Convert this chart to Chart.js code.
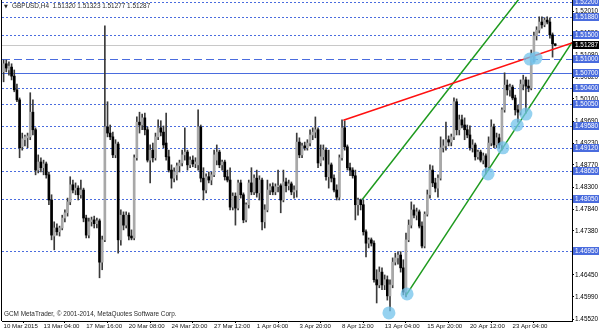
<!DOCTYPE html>
<html>
<head>
<meta charset="utf-8">
<script src="https://cdn.jsdelivr.net/npm/chart.js@4.4.1/dist/chart.umd.min.js"></script>
<style>
  html, body { margin: 0; padding: 0; background: #fff; }
  #wrap { width: 600px; height: 333px; }
</style>
</head>
<body>
<div id="wrap"><canvas id="chart" width="600" height="333"></canvas></div>
<script>
// GBPUSD H4, 10 Mar 2015 16:00 .. 24 Apr 2015 20:00 (one entry per bar)
var opens = [
  1.5073, 1.5090, 1.5077, 1.5083, 1.5064, 1.5035, 1.5014, 1.4915, 1.4930, 1.4934,
  1.4936, 1.4988, 1.4951, 1.4866, 1.4883, 1.4871, 1.4879, 1.4856, 1.4803, 1.4727,
  1.4744, 1.4736, 1.4744, 1.4765, 1.4776, 1.4799, 1.4835, 1.4824, 1.4828, 1.4814,
  1.4824, 1.4765, 1.4729, 1.4757, 1.4761, 1.4753, 1.4759, 1.4672, 1.4719, 1.4957,
  1.4944, 1.4936, 1.4898, 1.4921, 1.4719, 1.4771, 1.4750, 1.4771, 1.4727, 1.4723,
  1.4892, 1.4967, 1.4961, 1.4976, 1.4951, 1.4887, 1.4908, 1.4892, 1.4936, 1.4955,
  1.4946, 1.4923, 1.4894, 1.4866, 1.4849, 1.4856, 1.4875, 1.4881, 1.4898, 1.4904,
  1.4877, 1.4887, 1.4879, 1.4877, 1.4957, 1.4849, 1.4824, 1.4852, 1.4845, 1.4856,
  1.4887, 1.4904, 1.4877, 1.4883, 1.4852, 1.4845, 1.4788, 1.4811, 1.4786, 1.4839,
  1.4814, 1.4761, 1.4793, 1.4839, 1.4820, 1.4849, 1.4818, 1.4845, 1.4757, 1.4782,
  1.4824, 1.4831, 1.4820, 1.4831, 1.4833, 1.4803, 1.4841, 1.4833, 1.4837, 1.4820,
  1.4824, 1.4925, 1.4898, 1.4917, 1.4913, 1.4923, 1.4940, 1.4946, 1.4951, 1.4881,
  1.4894, 1.4908, 1.4852, 1.4877, 1.4849, 1.4824, 1.4809, 1.4892, 1.4955, 1.4915,
  1.4871, 1.4866, 1.4854, 1.4793, 1.4803, 1.4793, 1.4736, 1.4712, 1.4719, 1.4712,
  1.4635, 1.4624, 1.4651, 1.4624, 1.4635, 1.4601, 1.4624, 1.4672, 1.4681, 1.4687,
  1.4660, 1.4609, 1.4719, 1.4750, 1.4782, 1.4771, 1.4778, 1.4748, 1.4706, 1.4773,
  1.4814, 1.4866, 1.4839, 1.4828, 1.4849, 1.4913, 1.4917, 1.4930, 1.4925, 1.4936,
  1.5010, 1.4951, 1.4972, 1.4961, 1.4951, 1.4940, 1.4913, 1.4919, 1.4894, 1.4904,
  1.4887, 1.4896, 1.4873, 1.4923, 1.4957, 1.4919, 1.4934, 1.4919, 1.4993, 1.5045,
  1.5035, 1.5041, 1.5018, 1.4993, 1.4988, 1.5047, 1.5056, 1.5043, 1.5039, 1.5108,
  1.5149, 1.5161, 1.5178, 1.5172, 1.5182, 1.5178, 1.5151, 1.51320
];
var highs = [
  1.5098, 1.5098, 1.5094, 1.5090, 1.5077, 1.5047, 1.5018, 1.4944, 1.4940, 1.4944,
  1.5029, 1.5014, 1.4955, 1.4898, 1.4892, 1.4887, 1.4883, 1.4862, 1.4814, 1.4757,
  1.4753, 1.4748, 1.4771, 1.4782, 1.4807, 1.4852, 1.4845, 1.4839, 1.4833, 1.4845,
  1.4828, 1.4771, 1.4765, 1.4767, 1.4769, 1.4765, 1.4763, 1.4727, 1.5170, 1.5010,
  1.4961, 1.4946, 1.4930, 1.4925, 1.4782, 1.4778, 1.4778, 1.4776, 1.4740, 1.4898,
  1.4978, 1.4988, 1.4984, 1.4986, 1.4957, 1.4919, 1.4923, 1.4944, 1.4972, 1.4970,
  1.4959, 1.4986, 1.4908, 1.4877, 1.4871, 1.4881, 1.4887, 1.4908, 1.4955, 1.4908,
  1.4894, 1.4896, 1.4892, 1.4993, 1.4961, 1.4871, 1.4858, 1.4862, 1.4862, 1.4908,
  1.4919, 1.4908, 1.4887, 1.4887, 1.4866, 1.4871, 1.4818, 1.4818, 1.4845, 1.4845,
  1.4818, 1.4797, 1.4845, 1.4871, 1.4856, 1.4866, 1.4854, 1.4849, 1.4793, 1.4845,
  1.4837, 1.4839, 1.4837, 1.4866, 1.4837, 1.4866, 1.4849, 1.4845, 1.4841, 1.4833,
  1.4944, 1.4934, 1.4923, 1.4925, 1.4930, 1.4951, 1.4955, 1.4978, 1.4955, 1.4919,
  1.4919, 1.4913, 1.4908, 1.4881, 1.4856, 1.4835, 1.4898, 1.4972, 1.4970, 1.4919,
  1.4881, 1.4871, 1.4866, 1.4807, 1.4805, 1.4803, 1.4740, 1.4723, 1.4723, 1.4717,
  1.4656, 1.4662, 1.4660, 1.4645, 1.4643, 1.4635, 1.4681, 1.4691, 1.4694, 1.4694,
  1.4677, 1.4733, 1.4761, 1.4799, 1.4793, 1.4786, 1.4782, 1.4757, 1.4778, 1.4824,
  1.4877, 1.4875, 1.4849, 1.4856, 1.4936, 1.4930, 1.4967, 1.4938, 1.4942, 1.5018,
  1.5016, 1.4982, 1.4982, 1.4976, 1.4961, 1.4959, 1.4930, 1.4923, 1.4908, 1.4908,
  1.4902, 1.4900, 1.4936, 1.4972, 1.4963, 1.4944, 1.4942, 1.4997, 1.5071, 1.5056,
  1.5047, 1.5045, 1.5024, 1.5003, 1.5056, 1.5066, 1.5062, 1.5056, 1.5119, 1.5157,
  1.5168, 1.5189, 1.5189, 1.5187, 1.5189, 1.5187, 1.5155, 1.51323
];
var lows = [
  1.5052, 1.5073, 1.5066, 1.5056, 1.5031, 1.5010, 1.4892, 1.4908, 1.4917, 1.4913,
  1.4930, 1.4940, 1.4856, 1.4860, 1.4862, 1.4856, 1.4849, 1.4793, 1.4719, 1.4698,
  1.4729, 1.4727, 1.4740, 1.4757, 1.4769, 1.4793, 1.4818, 1.4814, 1.4803, 1.4807,
  1.4757, 1.4723, 1.4723, 1.4748, 1.4744, 1.4744, 1.4639, 1.4656, 1.4715, 1.4936,
  1.4930, 1.4892, 1.4892, 1.4691, 1.4708, 1.4740, 1.4744, 1.4719, 1.4719, 1.4719,
  1.4887, 1.4944, 1.4951, 1.4940, 1.4883, 1.4839, 1.4883, 1.4887, 1.4930, 1.4938,
  1.4913, 1.4887, 1.4862, 1.4828, 1.4841, 1.4845, 1.4862, 1.4875, 1.4887, 1.4866,
  1.4871, 1.4873, 1.4871, 1.4866, 1.4841, 1.4803, 1.4818, 1.4839, 1.4835, 1.4852,
  1.4877, 1.4871, 1.4866, 1.4845, 1.4841, 1.4782, 1.4782, 1.4750, 1.4782, 1.4807,
  1.4755, 1.4757, 1.4786, 1.4814, 1.4814, 1.4809, 1.4803, 1.4740, 1.4744, 1.4778,
  1.4814, 1.4814, 1.4814, 1.4820, 1.4776, 1.4799, 1.4820, 1.4824, 1.4814, 1.4807,
  1.4809, 1.4892, 1.4892, 1.4908, 1.4908, 1.4917, 1.4930, 1.4934, 1.4871, 1.4875,
  1.4887, 1.4845, 1.4828, 1.4841, 1.4820, 1.4803, 1.4803, 1.4887, 1.4908, 1.4866,
  1.4854, 1.4849, 1.4761, 1.4771, 1.4782, 1.4729, 1.4683, 1.4702, 1.4706, 1.4630,
  1.4586, 1.4618, 1.4614, 1.4614, 1.4592, 1.4569, 1.4618, 1.4666, 1.4668, 1.4651,
  1.4603, 1.4599, 1.4715, 1.4744, 1.4765, 1.4761, 1.4744, 1.4702, 1.4702, 1.4769,
  1.4807, 1.4831, 1.4820, 1.4809, 1.4845, 1.4904, 1.4908, 1.4917, 1.4917, 1.4930,
  1.4940, 1.4940, 1.4955, 1.4930, 1.4934, 1.4908, 1.4904, 1.4887, 1.4889, 1.4883,
  1.4879, 1.4858, 1.4866, 1.4917, 1.4913, 1.4913, 1.4913, 1.4908, 1.4988, 1.5024,
  1.5022, 1.5014, 1.4982, 1.4967, 1.4982, 1.5035, 1.4986, 1.5031, 1.5035, 1.5094,
  1.5140, 1.5155, 1.5165, 1.5168, 1.5174, 1.5144, 1.5104, 1.51277
];
var closes = [
  1.5090, 1.5081, 1.5085, 1.5064, 1.5035, 1.5014, 1.4913, 1.4932, 1.4936, 1.4938,
  1.4988, 1.4951, 1.4866, 1.4883, 1.4871, 1.4879, 1.4856, 1.4803, 1.4729, 1.4744,
  1.4736, 1.4744, 1.4765, 1.4776, 1.4799, 1.4835, 1.4824, 1.4828, 1.4814, 1.4824,
  1.4765, 1.4729, 1.4757, 1.4761, 1.4753, 1.4759, 1.4672, 1.4719, 1.4957, 1.4944,
  1.4936, 1.4898, 1.4921, 1.4719, 1.4771, 1.4750, 1.4771, 1.4727, 1.4723, 1.4892,
  1.4967, 1.4961, 1.4976, 1.4951, 1.4887, 1.4908, 1.4892, 1.4936, 1.4955, 1.4946,
  1.4919, 1.4894, 1.4866, 1.4849, 1.4862, 1.4875, 1.4881, 1.4898, 1.4904, 1.4877,
  1.4887, 1.4879, 1.4883, 1.4957, 1.4849, 1.4824, 1.4852, 1.4845, 1.4856, 1.4898,
  1.4904, 1.4877, 1.4883, 1.4852, 1.4845, 1.4788, 1.4811, 1.4786, 1.4839, 1.4814,
  1.4761, 1.4793, 1.4839, 1.4820, 1.4849, 1.4818, 1.4845, 1.4757, 1.4782, 1.4824,
  1.4831, 1.4820, 1.4831, 1.4833, 1.4803, 1.4841, 1.4833, 1.4837, 1.4820, 1.4824,
  1.4925, 1.4898, 1.4917, 1.4913, 1.4923, 1.4940, 1.4946, 1.4951, 1.4881, 1.4894,
  1.4908, 1.4852, 1.4877, 1.4849, 1.4824, 1.4809, 1.4892, 1.4955, 1.4915, 1.4871,
  1.4866, 1.4854, 1.4793, 1.4803, 1.4793, 1.4736, 1.4712, 1.4719, 1.4712, 1.4635,
  1.4624, 1.4651, 1.4624, 1.4635, 1.4601, 1.4624, 1.4672, 1.4681, 1.4687, 1.4660,
  1.4609, 1.4719, 1.4750, 1.4782, 1.4771, 1.4778, 1.4748, 1.4706, 1.4773, 1.4814,
  1.4866, 1.4839, 1.4828, 1.4849, 1.4913, 1.4917, 1.4930, 1.4925, 1.4936, 1.5010,
  1.4951, 1.4972, 1.4961, 1.4951, 1.4940, 1.4913, 1.4919, 1.4894, 1.4904, 1.4887,
  1.4896, 1.4873, 1.4923, 1.4957, 1.4919, 1.4934, 1.4919, 1.4993, 1.5045, 1.5035,
  1.5041, 1.5018, 1.4993, 1.4988, 1.5047, 1.5056, 1.5043, 1.5039, 1.5108, 1.5149,
  1.5161, 1.5178, 1.5172, 1.5182, 1.5178, 1.5151, 1.5132, 1.51287
];

// time axis labels (bar index -> text)
var xTickIdx = [0, 15, 31, 47, 63, 79, 95, 111, 127, 143, 159, 175, 191];
var xTickText = ['10 Mar 2015', '13 Mar 04:00', '17 Mar 16:00', '20 Mar 08:00', '24 Mar 20:00',
  '27 Mar 12:00', '1 Apr 04:00', '3 Apr 20:00', '8 Apr 12:00', '13 Apr 04:00',
  '15 Apr 20:00', '20 Apr 12:00', '23 Apr 04:00'];

// price scale ticks
var yTicks = [1.52010, 1.51550, 1.51080, 1.50620, 1.50160, 1.49690, 1.49230, 1.48770,
  1.48300, 1.47840, 1.47380, 1.46910, 1.46450, 1.45990, 1.45520];

// horizontal levels
var dotLevels = [1.52200, 1.51880, 1.51500, 1.50400, 1.50050, 1.49580, 1.49120, 1.48650, 1.48050, 1.46950];
var dashLevels = [1.51000];
var solidLevels = [1.50700];
var bidPrice = 1.51287;

// trend lines: [bar index, price]
var redLine = [[127.5, 1.4971], [213.3, 1.5134]];
var greenUpper = [[134.6, 1.4804], [195.0, 1.5238]];
var greenLower = [[151.0, 1.4602], [213.3, 1.5135]];
// marked touches: [bar index, price]
var touches = [[144.6, 1.4565], [151.4, 1.4605], [181.8, 1.4858], [187.4, 1.4913],
  [192.7, 1.4961], [196.0, 1.4984], [197.5, 1.5100], [199.8, 1.5102]];

var FONT = '"Liberation Sans", Arial, sans-serif';
var BLUE = 'rgb(74,108,222)';

var wicks = [], bodies = [], bodyColors = [];
for (var i = 0; i < opens.length; i++) {
  wicks.push({ x: i, y: [lows[i], highs[i]] });
  bodies.push({ x: i, y: [opens[i], closes[i]] });
  bodyColors.push(closes[i] >= opens[i] ? '#a8a8a8' : '#000000');
}

function pts(arr) {
  return arr.map(function (p) { return { x: p[0], y: p[1] }; });
}

function noPad(s) {
  s.paddingTop = 0; s.paddingBottom = 0; s.paddingLeft = 0; s.paddingRight = 0;
}

var levelsPlugin = {
  id: 'levels',
  beforeDatasetsDraw: function (chart) {
    var ctx = chart.ctx, a = chart.chartArea, ys = chart.scales.y;
    ctx.save();
    ctx.beginPath();
    ctx.rect(a.left, a.top, a.right - a.left, a.bottom - a.top);
    ctx.clip();
    ctx.lineWidth = 1;
    function hline(v, dash, color) {
      var y = Math.round(ys.getPixelForValue(v)) + 0.5;
      ctx.setLineDash(dash);
      ctx.strokeStyle = color;
      ctx.beginPath();
      ctx.moveTo(a.left, y);
      ctx.lineTo(a.right, y);
      ctx.stroke();
    }
    hline(bidPrice, [], '#c8c8c8');
    dotLevels.forEach(function (v) { hline(v, [2, 2], BLUE); });
    dashLevels.forEach(function (v) { hline(v, [8, 4], BLUE); });
    solidLevels.forEach(function (v) { hline(v, [], BLUE); });
    ctx.restore();
  },
  afterDraw: function (chart) {
    var ctx = chart.ctx, a = chart.chartArea, ys = chart.scales.y;
    ctx.save();
    // left frame line
    ctx.strokeStyle = '#000';
    ctx.lineWidth = 1;
    ctx.beginPath();
    ctx.moveTo(a.left - 0.5, a.top);
    ctx.lineTo(a.left - 0.5, a.bottom);
    ctx.stroke();

    ctx.font = '6.4px ' + FONT;
    ctx.textBaseline = 'middle';
    ctx.textAlign = 'left';
    function tag(v, bg) {
      var y = Math.round(ys.getPixelForValue(v));
      ctx.fillStyle = bg;
      ctx.fillRect(a.right + 1, y - 4, 26, 8);
      ctx.fillStyle = '#fff';
      ctx.fillText(v.toFixed(5), a.right + 3, y + 0.5);
    }
    dotLevels.concat(dashLevels, solidLevels).forEach(function (v) { tag(v, BLUE); });
    tag(bidPrice, '#000');

    // header and copyright
    ctx.fillStyle = '#2a2a2a';
    ctx.font = '5px "DejaVu Sans", sans-serif';
    ctx.fillText('\u25BC', a.left + 2, a.top + 6.5);
    ctx.font = '6.4px ' + FONT;
    var n = opens.length - 1;
    ctx.fillText('GBPUSD,H4  ' + opens[n].toFixed(5) + ' ' + highs[n].toFixed(5) + ' ' +
      lows[n].toFixed(5) + ' ' + closes[n].toFixed(5), a.left + 10, a.top + 6.5);
    ctx.fillText('GCM MetaTrader, \u00A9 2001-2014, MetaQuotes Software Corp.', a.left + 2, a.bottom - 6.5);
    ctx.restore();
  }
};

new Chart(document.getElementById('chart'), {
  type: 'bar',
  data: {
    datasets: [
      { type: 'bar', data: wicks, backgroundColor: '#3a3a3a', barThickness: 1, grouped: false, order: 5 },
      { type: 'bar', data: bodies, backgroundColor: bodyColors, barThickness: 2, minBarLength: 1, grouped: false, order: 4 },
      { type: 'line', data: pts(greenUpper), borderColor: '#1e9a1e', borderWidth: 1.5, pointRadius: 0, order: 3 },
      { type: 'line', data: pts(greenLower), borderColor: '#1e9a1e', borderWidth: 1.5, pointRadius: 0, order: 3 },
      { type: 'line', data: pts(redLine), borderColor: '#ff1010', borderWidth: 1.6, pointRadius: 0, order: 2 },
      { type: 'line', data: pts(touches), showLine: false, pointRadius: 6.5, pointBorderWidth: 0,
        pointBackgroundColor: 'rgba(115,195,235,0.75)', order: 1 }
    ]
  },
  options: {
    responsive: false,
    animation: false,
    devicePixelRatio: 1,
    layout: { autoPadding: false, padding: { left: 2, top: 0, right: 0, bottom: 0 } },
    plugins: { legend: { display: false }, tooltip: { enabled: false } },
    scales: {
      x: {
        type: 'linear',
        min: -0.6,
        max: 213.3,
        offset: false,
        afterFit: function (s) { s.height = 12; noPad(s); },
        afterBuildTicks: function (s) { s.ticks = xTickIdx.map(function (v) { return { value: v }; }); },
        grid: { drawOnChartArea: false, tickLength: 2, color: '#000' },
        border: { color: '#000', width: 1 },
        ticks: {
          autoSkip: false, maxRotation: 0, minRotation: 0, align: 'start', padding: 0,
          color: '#111', font: { family: FONT, size: 6.1 },
          callback: function (v, idx) { return xTickText[idx]; }
        }
      },
      y: {
        position: 'right',
        min: 1.45480,
        max: 1.52244,
        afterFit: function (s) { s.width = 28; noPad(s); },
        afterBuildTicks: function (s) { s.ticks = yTicks.map(function (v) { return { value: v }; }); },
        grid: { drawOnChartArea: false, tickLength: 2, color: '#000' },
        border: { color: '#000', width: 1 },
        ticks: {
          autoSkip: false, padding: 1, color: '#000', font: { family: FONT, size: 6.4 },
          callback: function (v) { return Number(v).toFixed(5); }
        }
      }
    }
  },
  plugins: [levelsPlugin]
});
</script>
</body>
</html>
